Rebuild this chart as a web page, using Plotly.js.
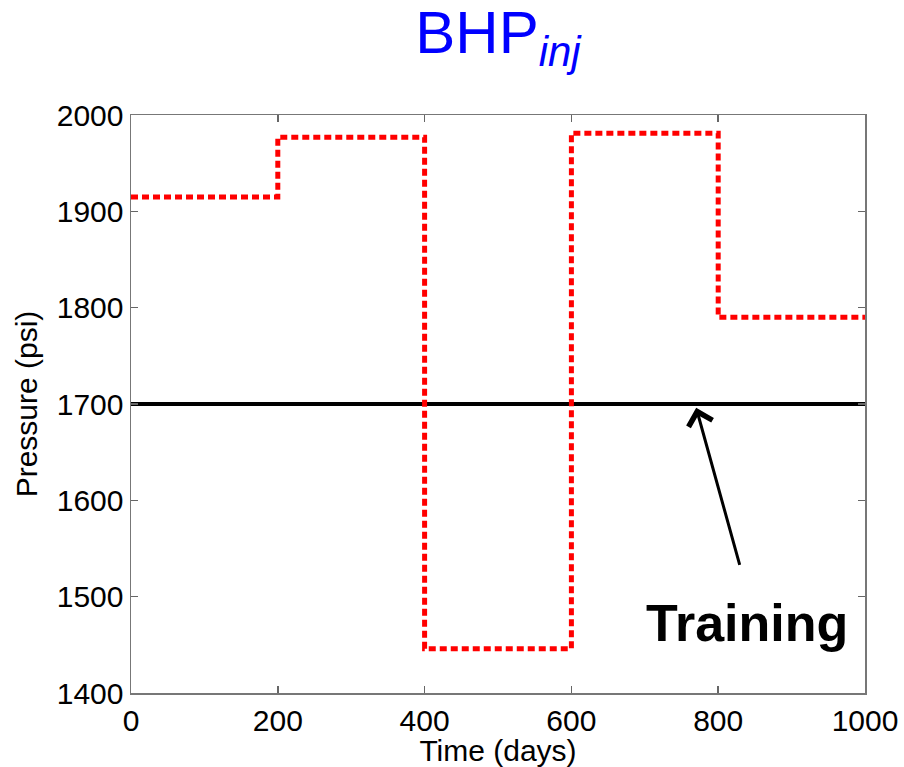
<!DOCTYPE html>
<html>
<head>
<meta charset="utf-8">
<script src="https://cdn.plot.ly/plotly-3.0.1.min.js"></script>
<style>html,body{margin:0;padding:0;background:#fff;}#chart{width:904px;height:767px;}</style>
</head>
<body>
<div id="chart"></div>
<script>
// Data
const timeDays = [0, 200, 400, 600, 800, 1000];
const bhpInj = [1915, 1977, 1446, 1981, 1790, 1790];
const trainingTime = [0, 1000];
const trainingBhp = [1700, 1700];
const xTicks = [0, 200, 400, 600, 800, 1000];
const yTicks = [1400, 1500, 1600, 1700, 1800, 1900, 2000];

const FONT = 'Liberation Sans, Arial, sans-serif';

const traces = [
  {
    x: trainingTime, y: trainingBhp, mode: 'lines', type: 'scatter',
    line: {color: '#000000', width: 4}, hoverinfo: 'skip'
  },
  {
    x: timeDays, y: bhpInj, mode: 'lines', type: 'scatter',
    line: {color: '#ff0000', width: 5, dash: '7px,4px', shape: 'hv'}, hoverinfo: 'skip'
  }
];

const layout = {
  width: 904, height: 767,
  margin: {l: 131, r: 39, t: 115, b: 74},
  paper_bgcolor: '#ffffff', plot_bgcolor: '#ffffff',
  showlegend: false,
  font: {family: FONT, color: '#000000', size: 30},
  title: {
    text: 'BHP<sub><i>inj</i></sub>',
    font: {family: FONT, size: 60, color: '#0000ff'},
    x: 0.5, xref: 'paper', xanchor: 'center',
    y: 1 - 32/767, yref: 'container', yanchor: 'middle'
  },
  xaxis: {
    range: [0, 1000], tickvals: xTicks, ticktext: xTicks.map(String),
    ticks: 'inside', ticklen: 7, tickwidth: 1.5, tickcolor: '#666',
    showline: true, linecolor: '#777', linewidth: 1.5, mirror: 'ticks',
    showgrid: false, zeroline: false,
    tickfont: {family: FONT, size: 30, color: '#000'},
    title: {text: 'Time (days)', font: {family: FONT, size: 30, color: '#000'}, standoff: 0},
    automargin: false
  },
  yaxis: {
    range: [1400, 2000], tickvals: yTicks, ticktext: yTicks.map(String),
    ticks: 'inside', ticklen: 7, tickwidth: 1.5, tickcolor: '#666',
    showline: true, linecolor: '#777', linewidth: 1.5, mirror: 'ticks',
    showgrid: false, zeroline: false,
    tickfont: {family: FONT, size: 30, color: '#000'},
    title: {text: 'Pressure (psi)', font: {family: FONT, size: 30, color: '#000'}, standoff: 10},
    automargin: false
  },
  annotations: [
    {
      x: 770, y: 1696, xref: 'x', yref: 'y',
      ax: 51, ay: 184, axref: 'pixel', ayref: 'pixel',
      text: '<b>Training</b>', showarrow: true, arrowhead: 4, arrowsize: 1.6, arrowwidth: 3,
      startstandoff: 28,
      arrowcolor: '#000000', xanchor: 'center', yanchor: 'top',
      font: {family: FONT, size: 52, color: '#000000'}
    }
  ]
};

Plotly.newPlot('chart', traces, layout, {staticPlot: true, displayModeBar: false});
</script>
</body>
</html>
